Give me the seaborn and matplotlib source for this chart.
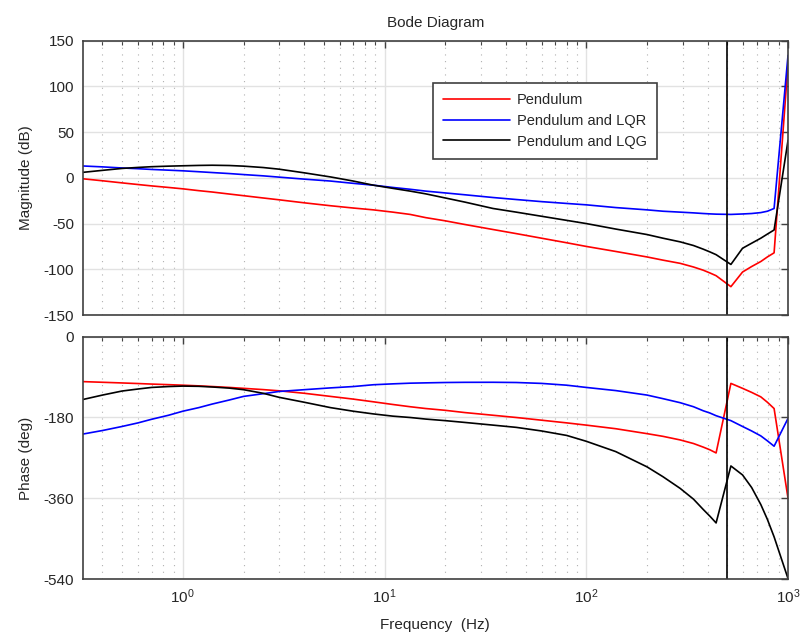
import numpy as np
import pandas as pd
import matplotlib
matplotlib.use("Agg")
import matplotlib.pyplot as plt
import matplotlib.ticker as mticker
import seaborn as sns

# %% data
freq = [0.319, 0.4, 0.5, 0.6, 0.7, 0.85, 1.0, 1.2, 1.4, 1.7, 2.0, 2.5, 3.0, 4.0,
        5.4, 7, 8.8, 11, 13.4, 16, 20, 25, 34.5, 45, 60, 80, 100, 140, 200, 240,
        292, 340, 380, 410, 440, 521, 595, 660, 733, 790, 853, 1000]

mag_pend = [-1, -3.2, -5.5, -7.3, -8.8, -10.5, -12, -14, -15.5, -17.7, -19.5, -22,
            -24, -27.3, -30.5, -33, -35, -37.5, -40, -43.5, -47, -51, -56.5, -61,
            -66, -71, -75, -80.5, -86.5, -90, -93.5, -97.5, -101, -104, -107, -119,
            -103, -97, -91.5, -86.5, -82, 125]
mag_lqr = [13, 12, 10.8, 10, 9.2, 8.4, 7.7, 6.7, 5.8, 4.7, 3.6, 2.2, 0.8, -1.4,
           -3.5, -6, -8, -10.5, -12.5, -14.5, -16.5, -18.5, -21.5, -23.7, -26, -28,
           -29.5, -32.5, -35, -36.5, -37.5, -38.3, -39, -39.4, -39.7, -40, -39.5,
           -39, -38, -36.5, -33.5, 134]
mag_lqg = [6, 8.2, 10.3, 11.4, 12.2, 12.8, 13.2, 13.6, 13.8, 13.5, 12.8, 11.3, 9.5,
           5.5, 1, -3.5, -8, -11.5, -14.5, -17.5, -22, -26.5, -33.5, -37.5, -42,
           -46.5, -50, -56, -62, -66, -70, -74, -78, -81, -84, -94.7, -77, -71.5,
           -66, -61.5, -57, 41]

ph_pend = [-100, -101.5, -103, -104.3, -105.5, -106.8, -108, -109.5, -111, -113,
           -115, -117.8, -120.5, -126, -133, -139, -145, -151, -156, -160, -164,
           -169, -175, -180, -186, -192, -197, -205, -216, -222, -230, -238, -246,
           -252, -259, -104, -115, -124, -134, -146, -160, -360]
ph_lqr = [-217, -209, -200, -192, -184, -175, -166, -158, -150, -141, -133, -127,
          -122, -118, -114, -111, -107, -105, -103.5, -102.8, -102, -101.6, -101.5,
          -102, -104, -108, -113, -120, -130, -138, -147, -156, -165, -170, -176,
          -187, -200, -210, -221, -232, -244, -182]
ph_lqg = [-140, -130, -121, -116.5, -113, -111, -110, -110.5, -112, -114.5, -118,
          -126, -135, -146, -158, -166, -172, -177, -180, -183.5, -187, -191, -197,
          -202, -210, -220, -233, -256, -290, -312, -338, -362, -385, -400, -415,
          -288, -308, -336, -374, -407, -446, -539]

names = ["Pendulum", "Pendulum and LQR", "Pendulum and LQG"]
colors = ["#ff0000", "#0000ff", "#000000"]
nyquist = 500

df = pd.concat([
    pd.DataFrame({"freq": freq, "mag": m, "phase": p, "system": n})
    for m, p, n in zip([mag_pend, mag_lqr, mag_lqg], [ph_pend, ph_lqr, ph_lqg], names)
])

# %% figure
sns.set_style("white")
plt.rcParams["font.family"] = ["Liberation Sans", "DejaVu Sans"]
plt.rcParams["axes.unicode_minus"] = False
plt.rcParams["axes.edgecolor"] = "#404040"
plt.rcParams["axes.linewidth"] = 1.2

fig = plt.figure(figsize=(8.01, 6.43), dpi=100)
ax1 = fig.add_axes([0.1032, 0.5101, 0.8806, 0.4266])
ax2 = fig.add_axes([0.1032, 0.0995, 0.8806, 0.3768], sharex=ax1)

sns.lineplot(data=df, x="freq", y="mag", hue="system", hue_order=names,
             palette=colors, estimator=None, lw=1.2, ax=ax1)
sns.lineplot(data=df, x="freq", y="phase", hue="system", hue_order=names,
             palette=colors, estimator=None, lw=1.2, ax=ax2, legend=False)

for ax in (ax1, ax2):
    ax.set_xscale("log")
    ax.set_xlim(0.319, 1000)
    ax.axvline(nyquist, color="k", lw=1.2)
    ax.grid(which="major", color="#e2e2e2", lw=1, ls="-")
    ax.xaxis.grid(which="minor", color="#b0b0b0", lw=0.8, ls=(0, (1, 5)))
    ax.xaxis.set_minor_locator(mticker.LogLocator(base=10, subs=np.arange(2, 10)))
    ax.tick_params(which="both", direction="in", top=True, right=True,
                   colors="#404040", labelcolor="#262626", labelsize=11)
    ax.tick_params(which="major", length=5, width=1)
    ax.tick_params(which="minor", length=3, width=0.8)
    ax.tick_params(axis="y", pad=6)
    ax.tick_params(axis="x", pad=6)

ax1.set_ylim(-150, 150)
ax1.set_yticks(np.arange(-150, 151, 50))
ax1.tick_params(axis="x", which="both", labelbottom=False)
ax1.set_xlabel("")
ax1.set_ylabel("Magnitude (dB)", fontsize=11, labelpad=8)
ax1.set_title("Bode Diagram", fontsize=11, pad=10, color="#262626")

ax2.set_ylim(-540, 0)
ax2.set_yticks([-540, -360, -180, 0])
ax2.set_ylabel("Phase (deg)", fontsize=11, labelpad=8)
ax2.set_xlabel("Frequency  (Hz)", fontsize=11, labelpad=9)

handles, labels = ax1.get_legend_handles_labels()
leg = ax1.legend(handles, labels, loc="upper left", bbox_to_anchor=(0.496, 0.845),
                 borderaxespad=0, fancybox=False, framealpha=1, edgecolor="#404040",
                 handlelength=4.6, handletextpad=0.5, labelspacing=0.45,
                 borderpad=0.7, fontsize=10.5)
leg.get_frame().set_linewidth(1.2)

fig.savefig("out.png", dpi=100)
